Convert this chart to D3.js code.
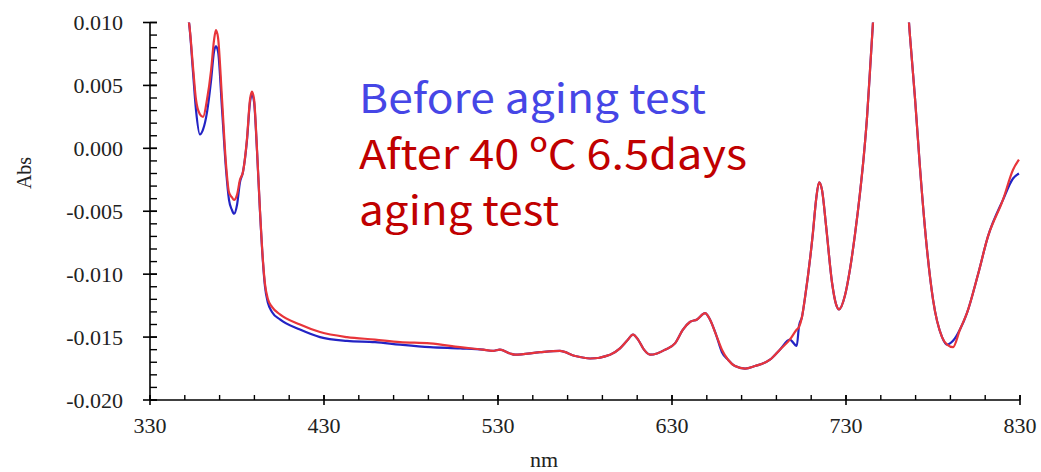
<!DOCTYPE html>
<html>
<head>
<meta charset="utf-8">
<script src="https://cdn.jsdelivr.net/npm/d3@7"></script>
<style>
  html, body { margin: 0; padding: 0; background: #fff; }
  svg { display: block; }
</style>
</head>
<body>
<div id="chart"></div>
<script>
// wavelength (nm) and absorbance
const wavelengths = [351.3, 352.4, 354.7, 356.4, 358.7, 360.5, 362.8, 365.1, 366.8, 367.9, 369.1, 371.4,
  373.7, 375.4, 377.1, 378.3, 380.0, 381.7, 383.4, 385.7, 387.5, 388.6, 389.8, 391.5, 393.2, 394.9,
  396.1, 397.8, 400.1, 404.7, 416.2, 427.7, 443.2, 459.3, 473.7, 490.9, 508.2, 521.4, 527.0, 531.1,
  536.9, 539.8, 554.1, 565.6, 574.3, 582.9, 594.4, 600.1, 604.1, 607.6, 610.5, 613.9, 617.4, 621.4,
  626.0, 631.7, 636.3, 640.3, 644.4, 649.0, 651.8, 655.3, 658.7, 662.2, 666.2, 672.0, 677.7, 686.3,
  692.0, 697.7, 701.7, 703.0, 704.7, 706.3, 711.0, 712.8, 714.5, 716.2, 718.5, 722.0, 724.3, 726.0,
  729.4, 732.3, 735.2, 738.0, 740.3, 742.1, 743.8, 745.5, 749.0, 753.0, 756.0, 760.0, 763.0, 766.2,
  767.9, 769.7, 772.5, 776.6, 780.0, 785.2, 788.1, 791.5, 795.5, 799.5, 805.9, 811.6, 820.2, 826.0, 829.4];

const beforeAbs = [0.0106, 0.0100, 0.0061, 0.0031, 0.0011, 0.0015, 0.0029, 0.0054, 0.0077, 0.0081, 0.0077, 0.0031,
  -0.0017, -0.0041, -0.0049, -0.0052, -0.0045, -0.0027, -0.0019, 0.0006, 0.0037, 0.0043, 0.0037, -0.0002, -0.0050, -0.0090,
  -0.0110, -0.0123, -0.0130, -0.0136, -0.0144, -0.0150, -0.0153, -0.0154, -0.0156, -0.0158, -0.0159, -0.0160, -0.0161, -0.0160,
  -0.0163, -0.0164, -0.0162, -0.0161, -0.0165, -0.0167, -0.0164, -0.0159, -0.0153, -0.0148, -0.0152, -0.0160, -0.0164, -0.0163,
  -0.0160, -0.0155, -0.0144, -0.0138, -0.0136, -0.0131, -0.0136, -0.0148, -0.0162, -0.0168, -0.0173, -0.0175, -0.0173, -0.0168,
  -0.0160, -0.0152, -0.0157, -0.0141, -0.0134, -0.0120, -0.0067, -0.0041, -0.0027, -0.0033, -0.0061, -0.0107, -0.0124, -0.0128,
  -0.0117, -0.0096, -0.0068, -0.0036, -0.0005, 0.0025, 0.0062, 0.0100, 0.0180, 0.0260, 0.0290, 0.0260, 0.0180, 0.0100,
  0.0070, 0.0039, -0.0015, -0.0081, -0.0120, -0.0150, -0.0156, -0.0153, -0.0144, -0.0131, -0.0100, -0.0070, -0.0041, -0.0024, -0.0020];

const afterAbs = [0.0106, 0.0100, 0.0065, 0.0039, 0.0027, 0.0025, 0.0039, 0.0062, 0.0086, 0.0094, 0.0088, 0.0039,
  -0.0013, -0.0035, -0.0039, -0.0041, -0.0037, -0.0025, -0.0019, 0.0007, 0.0039, 0.0045, 0.0039, -0.0001, -0.0049, -0.0089,
  -0.0108, -0.0120, -0.0126, -0.0132, -0.0140, -0.0146, -0.0150, -0.0152, -0.0154, -0.0155, -0.0158, -0.0160, -0.0161, -0.0160,
  -0.0163, -0.0164, -0.0162, -0.0161, -0.0165, -0.0167, -0.0164, -0.0159, -0.0153, -0.0148, -0.0152, -0.0160, -0.0164, -0.0163,
  -0.0160, -0.0155, -0.0144, -0.0138, -0.0136, -0.0131, -0.0136, -0.0148, -0.0160, -0.0168, -0.0173, -0.0175, -0.0173, -0.0168,
  -0.0160, -0.0152, -0.0144, -0.0142, -0.0134, -0.0120, -0.0067, -0.0041, -0.0027, -0.0033, -0.0061, -0.0107, -0.0124, -0.0128,
  -0.0117, -0.0096, -0.0068, -0.0036, -0.0005, 0.0025, 0.0062, 0.0100, 0.0180, 0.0260, 0.0290, 0.0260, 0.0180, 0.0100,
  0.0070, 0.0039, -0.0015, -0.0081, -0.0120, -0.0150, -0.0156, -0.0158, -0.0144, -0.0131, -0.0100, -0.0070, -0.0041, -0.0017, -0.0009];

const xTicks = [330, 430, 530, 630, 730, 830];
const yTicks = [-0.020, -0.015, -0.010, -0.005, 0.000, 0.005, 0.010];
const legendLines = ['Before aging test', 'After 40 ºC 6.5days', 'aging test'];

const width = 1041, height = 472;
const svg = d3.select('#chart').append('svg')
  .attr('width', width)
  .attr('height', height);

const x = d3.scaleLinear().domain([330, 830]).range([150, 1020]);
const y = d3.scaleLinear().domain([-0.020, 0.010]).range([400, 22.5]);

// clip curves to plot area
svg.append('clipPath').attr('id', 'plot')
  .append('rect')
  .attr('x', x(330)).attr('y', y(0.010))
  .attr('width', x(830) - x(330)).attr('height', y(-0.020) - y(0.010));

const serif = '"Liberation Serif", "Times New Roman", serif';

// y axis: major ticks cross the line, minor ticks inside
const yAxis = svg.append('g').attr('transform', `translate(${x(330)},0)`);
yAxis.append('line')
  .attr('y1', y(-0.020)).attr('y2', y(0.010))
  .attr('stroke', '#000').attr('stroke-width', 1.6);
yAxis.selectAll('.minor')
  .data(d3.range(-20, 11).map(d => d / 1000))
  .enter().append('line')
  .attr('x1', 0).attr('x2', 7)
  .attr('y1', d => y(d)).attr('y2', d => y(d))
  .attr('stroke', '#000').attr('stroke-width', 1.4);
yAxis.selectAll('.major')
  .data(yTicks)
  .enter().append('line')
  .attr('x1', -7).attr('x2', 7)
  .attr('y1', d => y(d)).attr('y2', d => y(d))
  .attr('stroke', '#000').attr('stroke-width', 1.6);
yAxis.selectAll('text')
  .data(yTicks)
  .enter().append('text')
  .attr('x', -27).attr('y', d => y(d))
  .attr('dy', '0.35em')
  .attr('text-anchor', 'end')
  .style('font-family', serif).style('font-size', '22px').style('fill', '#222')
  .text(d => d3.format('.3f')(d).replace('−', '-'));

// x axis
const xAxis = svg.append('g').attr('transform', `translate(0,${y(-0.020)})`);
xAxis.append('line')
  .attr('x1', x(330)).attr('x2', x(830))
  .attr('stroke', '#000').attr('stroke-width', 1.6);
xAxis.selectAll('.minor')
  .data(d3.range(330, 831, 20))
  .enter().append('line')
  .attr('x1', d => x(d)).attr('x2', d => x(d))
  .attr('y1', -5).attr('y2', 0)
  .attr('stroke', '#000').attr('stroke-width', 1.4);
xAxis.selectAll('.major')
  .data(xTicks)
  .enter().append('line')
  .attr('x1', d => x(d)).attr('x2', d => x(d))
  .attr('y1', -5).attr('y2', 5)
  .attr('stroke', '#000').attr('stroke-width', 1.6);
xAxis.selectAll('text')
  .data(xTicks)
  .enter().append('text')
  .attr('x', d => x(d)).attr('y', 33)
  .attr('text-anchor', 'middle')
  .style('font-family', serif).style('font-size', '22px').style('fill', '#222')
  .text(d => d);

// axis titles
svg.append('text')
  .attr('transform', `translate(31,173) rotate(-90)`)
  .attr('text-anchor', 'middle')
  .style('font-family', serif).style('font-size', '20px').style('fill', '#222')
  .text('Abs');
svg.append('text')
  .attr('x', 544).attr('y', 467)
  .attr('text-anchor', 'middle')
  .style('font-family', serif).style('font-size', '22px').style('fill', '#222')
  .text('nm');

// spectra
const line = vals => d3.line()
  .x((d, i) => x(wavelengths[i]))
  .y(d => y(d))
  .curve(d3.curveMonotoneX)(vals);

const curves = svg.append('g').attr('clip-path', 'url(#plot)');
curves.append('path')
  .attr('d', line(beforeAbs))
  .attr('fill', 'none').attr('stroke', '#2323c4').attr('stroke-width', 2.2);
curves.append('path')
  .attr('d', line(afterAbs))
  .attr('fill', 'none').attr('stroke', '#e8353a').attr('stroke-width', 2.2);

// legend text, stretched to the widths seen in the picture
const legendColors = ['#4646e6', '#c00000', '#c00000'];
const legendWidths = [347, 388, 200];
svg.selectAll('.legend')
  .data(legendLines)
  .enter().append('text')
  .attr('x', 359)
  .attr('y', (d, i) => 113 + i * 56)
  .attr('textLength', (d, i) => legendWidths[i])
  .attr('lengthAdjust', 'spacingAndGlyphs')
  .style('font-family', '"Noto Sans CJK SC", "Noto Sans", sans-serif')
  .style('font-size', '40px')
  .style('fill', (d, i) => legendColors[i])
  .text(d => d);
</script>
</body>
</html>
